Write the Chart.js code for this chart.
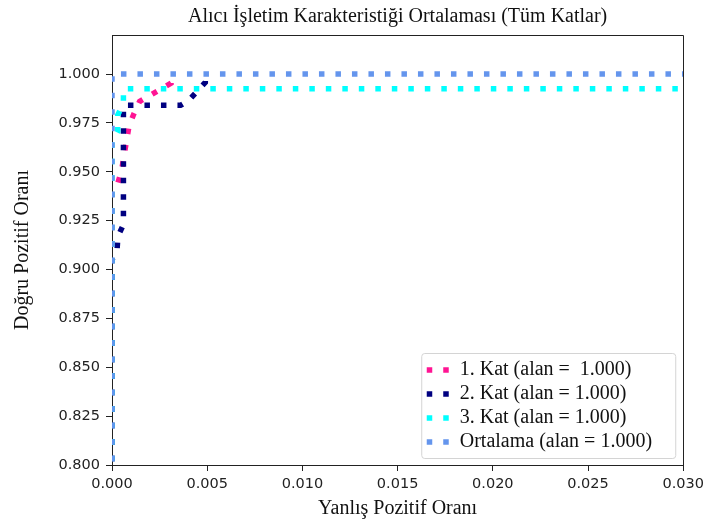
<!DOCTYPE html>
<html>
<head>
<meta charset="utf-8">
<script src="https://cdn.jsdelivr.net/npm/chart.js@4/dist/chart.umd.min.js"></script>
<style>
  html, body { margin: 0; padding: 0; background: #fff; }
</style>
</head>
<body>
<canvas id="roc" width="709" height="529"></canvas>
<script>
// ROC curves per fold plus the averaged curve (x = FPR, y = TPR)
const fold1Fpr = [0, 0, 0.0003, 0.0005, 0.0009, 0.00115, 0.00145, 0.0031, 0.0031, 1];
const fold1Tpr = [0, 0.94, 0.944, 0.9506, 0.9737, 0.9797, 0.986, 0.9954, 1, 1];

const fold2Fpr = [0, 0, 0.00026, 0.00031, 0.0006, 0.0006, 0.0036, 0.0040, 0.0049, 0.0049, 1];
const fold2Tpr = [0, 0.905, 0.909, 0.917, 0.923, 0.984, 0.984, 0.9863, 0.9957, 1, 1];

const fold3Fpr = [0, 0, 0.0003, 0.0003, 0.0006, 0.0006, 1];
const fold3Tpr = [0, 0.965, 0.9706, 0.979, 0.985, 0.9925, 0.9925];

const meanFpr = [0, 0, 1];
const meanTpr = [0, 1, 1];

const seriesLabels = [
  '1. Kat (alan =  1.000)',
  '2. Kat (alan = 1.000)',
  '3. Kat (alan = 1.000)',
  'Ortalama (alan = 1.000)',
];
const seriesColors = ['#ff1493', '#000080', '#00ffff', '#6495ed'];

const xTicks = [0, 0.005, 0.010, 0.015, 0.020, 0.025, 0.030];
const yTicks = [0.800, 0.825, 0.850, 0.875, 0.900, 0.925, 0.950, 0.975, 1.000];

const SERIF = '"Liberation Serif", "Times New Roman", serif';
const SANS = '"DejaVu Sans", sans-serif';
const INK = '#222';
const DOT = 5.5;

function points(xs, ys) {
  return xs.map((x, i) => ({ x, y: ys[i] }));
}

// fold curves sit under the mean once they reach TPR = 1; only the mean's dots show there
const underMean = ctx =>
  ctx.p0.parsed.y >= 1 && ctx.p1.parsed.y >= 1 ? 'rgba(0,0,0,0)' : undefined;

function rocDataset(i, xs, ys, order, isMean) {
  return {
    label: seriesLabels[i],
    data: points(xs, ys),
    borderColor: seriesColors[i],
    backgroundColor: seriesColors[i],
    borderWidth: DOT,
    borderDash: [DOT, 11],
    borderCapStyle: 'butt',
    showLine: true,
    pointRadius: 0,
    tension: 0,
    clip: 0,
    order,
    segment: isMean ? {} : { borderColor: underMean },
  };
}

// top/right spines and an in-plot legend (lower right)
const frameAndLegend = {
  id: 'frameAndLegend',
  afterDatasetsDraw(chart) {
    const { ctx, chartArea: a } = chart;
    ctx.save();
    ctx.strokeStyle = INK;
    ctx.lineWidth = 1;
    ctx.beginPath();
    ctx.moveTo(Math.round(a.left) + 0.5, Math.round(a.top) + 0.5);
    ctx.lineTo(Math.round(a.right) + 0.5, Math.round(a.top) + 0.5);
    ctx.lineTo(Math.round(a.right) + 0.5, Math.round(a.bottom) + 0.5);
    ctx.stroke();

    const w = 254, h = 105;
    const bx = a.right - 8 - w, by = a.bottom - 7 - h;
    ctx.beginPath();
    ctx.roundRect(bx + 0.5, by + 0.5, w, h, 3);
    ctx.fillStyle = 'rgba(255,255,255,0.85)';
    ctx.fill();
    ctx.strokeStyle = '#d4d4d4';
    ctx.stroke();

    ctx.font = '20px ' + SERIF;
    ctx.textBaseline = 'middle';
    chart.data.datasets.forEach((ds, i) => {
      const y = by + 17 + i * 24;
      ctx.save();
      ctx.strokeStyle = ds.borderColor;
      ctx.lineWidth = DOT;
      ctx.lineCap = 'butt';
      ctx.setLineDash(ds.borderDash);
      ctx.beginPath();
      ctx.moveTo(bx + 5.5, y);
      ctx.lineTo(bx + 5.5 + 22, y);
      ctx.stroke();
      ctx.restore();
      ctx.fillStyle = '#111';
      ctx.fillText(ds.label, bx + 38.5, y);
    });
    ctx.restore();
  },
};

new Chart(document.getElementById('roc'), {
  type: 'scatter',
  data: {
    datasets: [
      rocDataset(0, fold1Fpr, fold1Tpr, 3, false),
      rocDataset(1, fold2Fpr, fold2Tpr, 2, false),
      rocDataset(2, fold3Fpr, fold3Tpr, 1, false),
      rocDataset(3, meanFpr, meanTpr, 0, true),
    ],
  },
  options: {
    responsive: false,
    animation: false,
    layout: { padding: { left: 0, right: 25, top: 0, bottom: 0 } },
    plugins: {
      legend: { display: false },
      tooltip: { enabled: false },
      title: {
        display: true,
        fullSize: false,
        text: 'Alıcı İşletim Karakteristiği Ortalaması (Tüm Katlar)',
        color: '#111',
        font: { family: SERIF, size: 20, weight: 'normal', lineHeight: 1.2 },
        padding: { top: 5, bottom: 6 },
      },
    },
    scales: {
      x: {
        type: 'linear',
        min: 0,
        max: 0.03,
        afterFit: s => { s.height = 64; },
        afterBuildTicks: s => { s.ticks = xTicks.map(v => ({ value: v })); },
        ticks: {
          callback: v => Number(v).toFixed(3),
          font: { family: SANS, size: 14.5 },
          color: INK,
          padding: 5,
          maxRotation: 0,
          autoSkip: false,
        },
        grid: { drawOnChartArea: false, drawTicks: true, tickLength: 6, color: INK },
        border: { display: true, color: INK },
        title: {
          display: true,
          text: 'Yanlış Pozitif Oranı',
          color: '#111',
          font: { family: SERIF, size: 20, lineHeight: 1.2 },
          padding: { top: 0, bottom: 8 },
        },
      },
      y: {
        type: 'linear',
        min: 0.8,
        max: 1.02,
        afterFit: s => { s.width = 112; },
        afterBuildTicks: s => { s.ticks = yTicks.map(v => ({ value: v })); },
        ticks: {
          callback: v => Number(v).toFixed(3),
          font: { family: SANS, size: 14.5 },
          color: INK,
          padding: 6,
          autoSkip: false,
        },
        grid: { drawOnChartArea: false, drawTicks: true, tickLength: 6, color: INK },
        border: { display: true, color: INK },
        title: {
          display: true,
          text: 'Doğru Pozitif Oranı',
          color: '#111',
          font: { family: SERIF, size: 20, lineHeight: 1.2 },
          padding: { top: 11, bottom: 0 },
        },
      },
    },
  },
  plugins: [frameAndLegend],
});
</script>
</body>
</html>
